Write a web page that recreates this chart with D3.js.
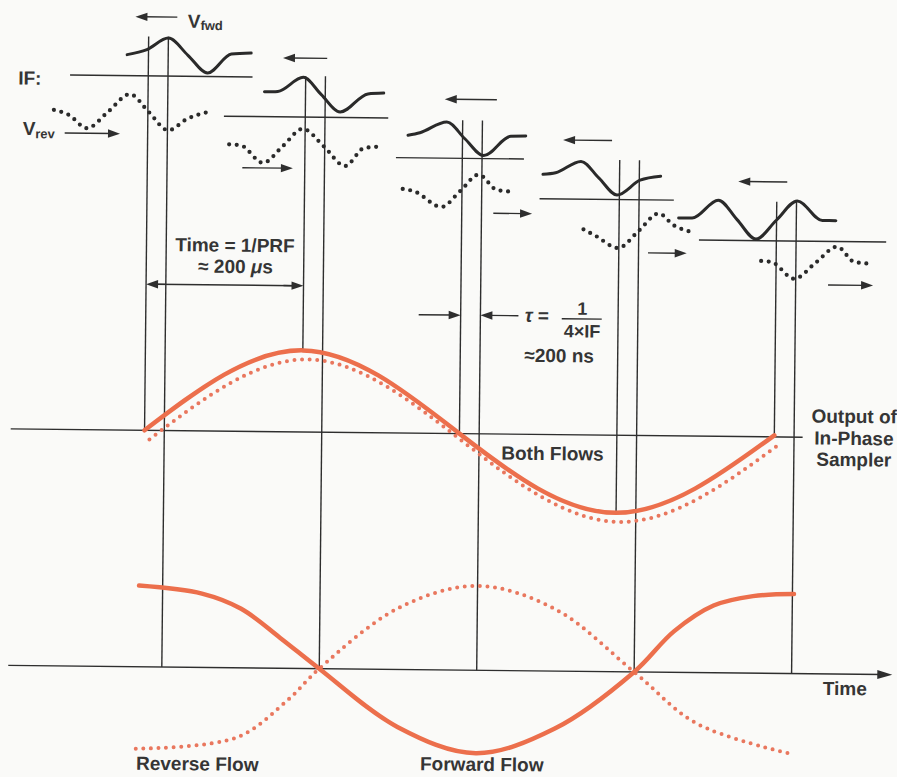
<!DOCTYPE html>
<meta charset="utf-8">
<style>
body { margin: 0; background: #fafaf8; }
svg { display: block; }
.thin { fill: none; stroke: #2e2e2e; stroke-width: 1.4px; }
.head { fill: #2e2e2e; stroke: none; }
.fwd { fill: none; stroke: #2a2a2a; stroke-width: 3px; stroke-linejoin: round; stroke-linecap: round; }
.rev { fill: none; stroke: #2a2a2a; stroke-width: 4.2px; stroke-linecap: round; stroke-dasharray: 0 7.6; }
.out { fill: none; stroke: #ec6f4c; stroke-width: 4.5px; stroke-linecap: round; }
.outdot { fill: none; stroke: #e9775e; stroke-width: 4px; stroke-linecap: round; stroke-dasharray: 0 7.6; }
.label { font-family: "Liberation Sans", Arial, sans-serif; font-weight: bold; font-size: 19px; fill: #353535; }
</style>
<svg width="897" height="777"></svg>
<script src="https://d3js.org/d3.v7.min.js"></script>
<script>

// sample instants, in PRF periods
const samples = [0, 1, 2, 3, 4];

// IF reference line of each row, [start, end] in IF periods from the in-phase sample
const ifLine = [[-0.99, 1.32], [-1.03, 1.05], [-0.84, 0.78], [-1.01, 0.69], [-0.98, 1.39]];

// centre of the bursts, in burst amplitudes above the IF line
const fwdLevel = [1.2, 1.29, 1.12, 1.21, 1.19];
const revLevel = [-2.06, -1.67, -1.86, -1.77, -1.23];

// bursts: [IF periods from in-phase sample, amplitude]
const fwdBursts = [
  [[-0.27, 0], [-0.02, 0.3], [0.25, 0.97], [0.5, 0], [0.75, -1], [1.05, 0.1], [1.3, 0.17]],
  [[-0.52, 0.13], [-0.35, 0.16], [-0.03, 0.98], [0.2, 0], [0.44, -0.98], [0.79, 0.07], [0.99, 0.13]],
  [[-0.69, 0.17], [-0.54, 0.32], [-0.2, 0.95], [0.03, 0], [0.27, -0.95], [0.61, 0.17], [0.8, 0.19]],
  [[-0.97, 0.19], [-0.81, 0.29], [-0.49, 0.95], [-0.26, 0], [-0.03, -0.95], [0.26, -0.09], [0.52, 0.15]],
  [[-1.24, 0.06], [-1.07, 0.06], [-0.74, 1.1], [-0.5, 0], [-0.26, -1.1], [0, 0], [0.26, 1.1], [0.58, 0], [0.75, 0]]
];
const revBursts = [
  [[-1.19, 0.06], [-1.0, -0.22], [-0.77, -0.97], [-0.5, 0], [-0.23, 1.0], [0.01, 0], [0.26, -1.04], [0.5, -0.37], [0.78, 0.05]],
  [[-0.96, 0.07], [-0.81, 0.01], [-0.53, -0.97], [-0.28, 0], [-0.03, 1.0], [0.24, 0], [0.51, -1.1], [0.75, -0.06], [0.98, 0.03]],
  [[-0.75, 0.08], [-0.6, -0.06], [-0.26, -0.93], [-0.02, 0], [0.21, 0.94], [0.44, 0.08], [0.66, -0.02]],
  [[-0.45, 0.05], [-0.29, -0.33], [-0.01, -1.0], [0.25, 0], [0.5, 1.0], [0.69, 0.34], [0.93, -0.05]],
  [[-0.19, 0.07], [-0.06, 0.02], [0.23, -0.93], [0.5, 0], [0.77, 0.93], [0.99, 0.07], [1.2, -0.02]]
];

// direction arrows [tail, head] in IF periods
const fwdArrows = [[0.36, -0.17], [0.27, -0.29], [0.43, -0.23], [-0.1, -0.72], [0.13, -0.49]];
const revArrows = [[-1.05, -0.35], [-0.79, -0.15], [0.4, 0.89], [0.37, 0.86], [0.66, 1.23]];

// in-phase sampler output (same for both flows)
const inPhase = [0, 1.02, 0, -0.97, 0.02];

// quadrature sampler output: [PRF periods, value]
const quadFwd = [[-0.15, 0.99], [0.25, 0.9], [0.5, 0.72], [0.75, 0.37], [1, 0], [1.5, -0.7], [2, -1.01],
                 [2.5, -0.7], [3, 0], [3.25, 0.5], [3.5, 0.82], [3.75, 0.94], [4.01, 0.97]];
const quadRev = [[-0.16, -1.0], [0.48, -0.85], [0.8, -0.39], [1, 0], [1.5, 0.75], [2, 1.03], [2.5, 0.75], [3, 0], [3.4, -0.62], [3.98, -0.97]];

const TAU = 0.25; // quadrature sample delay, IF periods

var svg = d3.select("svg");
svg.append("rect").attr("width", 897).attr("height", 777).attr("fill", "#fafaf8");
var g = svg.append("g").attr("transform", "rotate(0.6 448 388)");

var xT = d3.scaleLinear().domain([0, 4]).range([145, 774.8]);
var ifPx = d3.scaleLinear().domain([0, 1]).range([0, 79]);
var rowY = d3.scaleLinear().domain([0, 4]).range([79, 237.4]);
var ampPx = d3.scaleLinear().domain([0, 1]).range([0, -17.5]);
var yMid = d3.scaleLinear().domain([-1, 1]).range([513.5, 353.5]);
var yBot = d3.scaleLinear().domain([-1, 1]).range([752, 588]);

function arrow(sel, x1, y, x2) {
  var dir = x2 > x1 ? 1 : -1;
  sel.append("line").attr("class", "thin")
    .attr("x1", x1).attr("y1", y).attr("x2", x2 - dir * 8).attr("y2", y);
  sel.append("path").attr("class", "head")
    .attr("d", "M" + x2 + "," + y + "L" + (x2 - dir * 12) + "," + (y - 4.2) + "L" + (x2 - dir * 12) + "," + (y + 4.2) + "Z");
}

// vertical sample lines
samples.forEach(function(k) {
  var top = rowY(k) + ampPx(fwdLevel[k] + 1.05);
  g.append("line").attr("class", "thin")
    .attr("x1", xT(k)).attr("x2", xT(k)).attr("y1", top).attr("y2", yMid(inPhase[k]));
  g.append("line").attr("class", "thin")
    .attr("x1", xT(k) + ifPx(TAU)).attr("x2", xT(k) + ifPx(TAU)).attr("y1", top).attr("y2", yBot(0));
});

// IF rows
samples.forEach(function(k) {
  var x0 = xT(k);
  g.append("line").attr("class", "thin")
    .attr("x1", x0 + ifPx(ifLine[k][0])).attr("x2", x0 + ifPx(ifLine[k][1]))
    .attr("y1", rowY(k)).attr("y2", rowY(k));

  var fwdLine = d3.line()
    .x(function(d) { return x0 + ifPx(d[0]); })
    .y(function(d) { return rowY(k) + ampPx(fwdLevel[k] + d[1]); })
    .curve(d3.curveMonotoneX);
  g.append("path").attr("class", "fwd").attr("d", fwdLine(fwdBursts[k]));

  var revLine = d3.line()
    .x(function(d) { return x0 + ifPx(d[0]); })
    .y(function(d) { return rowY(k) + ampPx(revLevel[k] + d[1]); })
    .curve(d3.curveMonotoneX);
  g.append("path").attr("class", "rev").attr("d", revLine(revBursts[k]));

  arrow(g, x0 + ifPx(fwdArrows[k][0]), rowY(k) + ampPx(3.37), x0 + ifPx(fwdArrows[k][1]));
  arrow(g, x0 + ifPx(revArrows[k][0]), rowY(k) + ampPx(revLevel[k] - 1.26), x0 + ifPx(revArrows[k][1]));
});

// middle axis and in-phase output
g.append("line").attr("class", "thin")
  .attr("x1", xT(-0.85)).attr("x2", xT(4.18)).attr("y1", yMid(0)).attr("y2", yMid(0));

var midLine = d3.line()
  .x(function(d, i) { return xT(i); })
  .y(function(d) { return yMid(d); })
  .curve(d3.curveNatural);
g.append("path").attr("class", "outdot").attr("transform", "translate(5,9)").attr("d", midLine(inPhase));
g.append("path").attr("class", "out").attr("d", midLine(inPhase));

// bottom axis and quadrature output
var yb = yBot(0);
g.append("line").attr("class", "thin")
  .attr("x1", xT(-0.85)).attr("x2", xT(4.765) - 10).attr("y1", yb).attr("y2", yb);
g.append("path").attr("class", "head")
  .attr("d", "M" + xT(4.765) + "," + yb + "L" + (xT(4.765) - 15) + "," + (yb - 4.5) + "L" + (xT(4.765) - 15) + "," + (yb + 4.5) + "Z");

var quadLine = d3.line()
  .x(function(d) { return xT(d[0]) + ifPx(TAU); })
  .y(function(d) { return yBot(d[1]); })
  .curve(d3.curveCatmullRom.alpha(0.5));
g.append("path").attr("class", "outdot").attr("d", quadLine(quadRev));
g.append("path").attr("class", "out").attr("d", quadLine(quadFwd));

// PRF interval
var yPrf = 287.3;
g.append("line").attr("class", "thin").attr("x1", xT(0) + 8).attr("x2", xT(1) - 8).attr("y1", yPrf).attr("y2", yPrf);
arrow(g, xT(0) + 20, yPrf, xT(0));
arrow(g, xT(1) - 20, yPrf, xT(1));

// tau interval
var yTau = 315;
arrow(g, xT(2) - 42, yTau, xT(2));
arrow(g, xT(2) + ifPx(TAU) + 38, yTau, xT(2) + ifPx(TAU));

// labels
function label(x, y, txt, anchor) {
  return g.append("text").attr("class", "label").attr("x", x).attr("y", y)
    .attr("text-anchor", anchor || "start").text(txt);
}

var vf = label(184, 30.5, "V");
vf.append("tspan").attr("dy", 2).style("font-size", "13px").text("fwd");

label(15, 89, "IF:");
var vr = label(20, 139.5, "V");
vr.append("tspan").attr("dy", 3).style("font-size", "13px").text("rev");

label(233.5, 254, "Time = 1/PRF", "middle");
var us = label(234.3, 275.3, "\u2248 200 ", "middle");
us.append("tspan").style("font-style", "italic").text("\u03bc");
us.append("tspan").text("s");

var tau = label(524, 321, "");
tau.append("tspan").style("font-style", "italic").text("\u03c4");
tau.append("tspan").text(" =");
label(581.5, 313.5, "1", "middle").style("font-size", "18px");
g.append("line").attr("class", "thin").attr("x1", 561).attr("x2", 601).attr("y1", 317.5).attr("y2", 317.5);
label(581.5, 336, "4\u00d7IF", "middle").style("font-size", "18px");
label(524, 361, "\u2248200 ns");

label(502, 459, "Both Flows");
label(854.5, 418.7, "Output of", "middle");
label(854.5, 440.7, "In-Phase", "middle");
label(854.5, 462, "Sampler", "middle");

label(826, 691, "Time");
label(140, 773, "Reverse Flow");
label(424, 770.5, "Forward Flow");

</script>
